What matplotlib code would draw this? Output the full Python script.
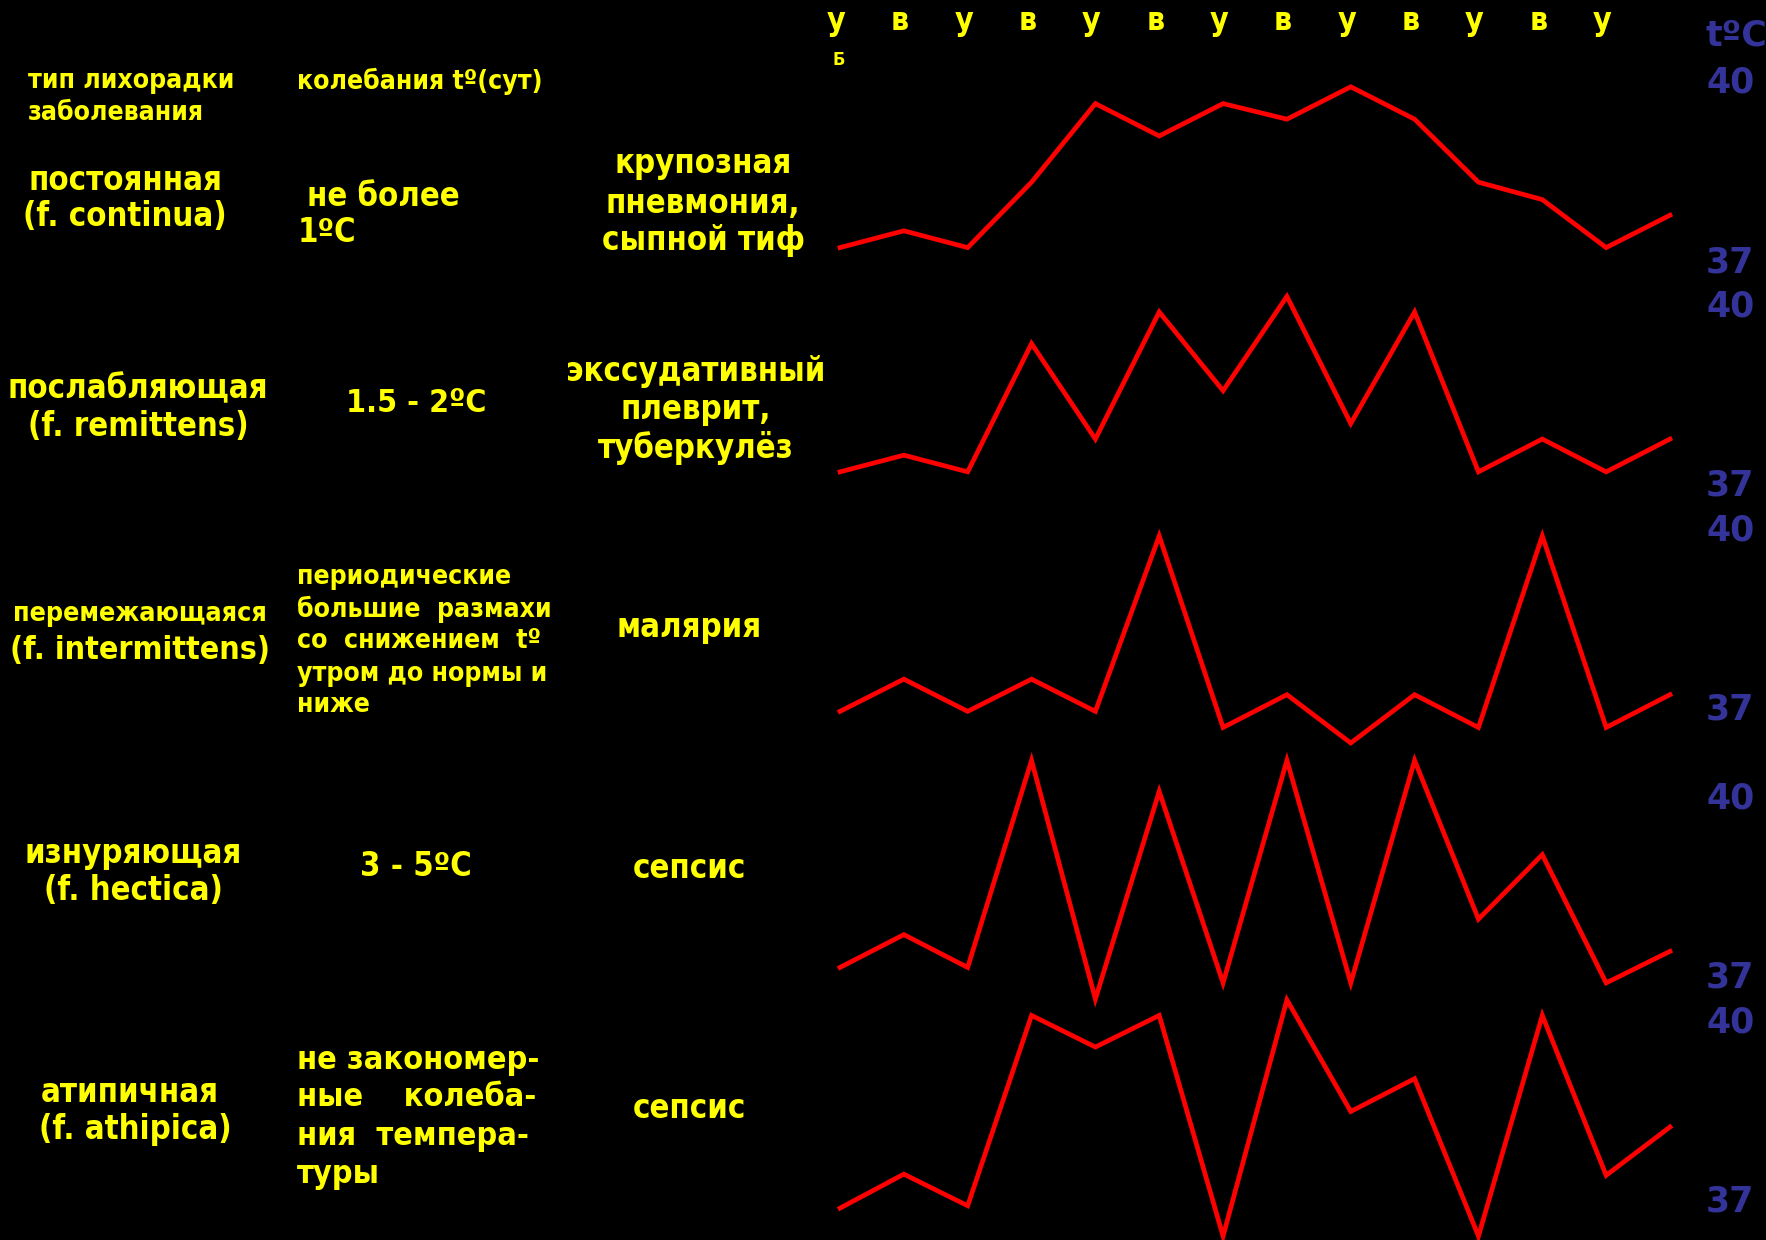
import matplotlib.pyplot as plt
import matplotlib.transforms as mtransforms

W, H = 1766, 1240
YELLOW = '#FFFF00'
BLUE = '#333399'
FONT = 'DejaVu Sans'

# time of measurement: у = утро, в = вечер
day_labels = ['у', 'в', 'у', 'в', 'у', 'в', 'у', 'в', 'у', 'в', 'у', 'в', 'у']

# temperature curves, one per fever type (°C)
t_continua = [37.19, 37.47, 37.19, 38.28, 39.59, 39.05, 39.59, 39.33, 39.87, 39.33, 38.28, 37.99, 37.19, 37.73]
t_remittens = [37.17, 37.45, 37.17, 39.32, 37.72, 39.85, 38.53, 40.11, 37.98, 39.85, 37.17, 37.72, 37.17, 37.72]
t_intermittens = [36.91, 37.45, 36.91, 37.45, 36.91, 39.85, 36.64, 37.19, 36.38, 37.19, 36.64, 39.85, 36.64, 37.19]
t_hectica = [37.11, 37.66, 37.11, 40.58, 36.58, 40.06, 36.85, 40.58, 36.85, 40.58, 37.92, 39.00, 36.85, 37.38]
t_athipica = [36.83, 37.40, 36.87, 40.06, 39.53, 40.06, 36.36, 40.32, 38.45, 39.00, 36.36, 40.06, 37.38, 38.19]

curves = [t_continua, t_remittens, t_intermittens, t_hectica, t_athipica]
y_ticks = [37, 40]

# pixel rows of the 40 / 37 marks for each panel
panel_rows = [(79, 259), (303, 482), (527, 706), (795, 974), (1019, 1198)]
x_left, x_right = 840, 1670

fig = plt.figure(figsize=(W / 100, H / 100), dpi=100, facecolor='black')


def put(x, y, s, size, ha='left', color=YELLOW, stretch='condensed'):
    fig.text(x / W, 1 - y / H, s, ha=ha, va='center', fontsize=size,
             fontweight='bold', fontstretch=stretch, color=color, family=FONT)


for i, (temps, (y40, y37)) in enumerate(zip(curves, panel_rows)):
    ax = fig.add_axes([x_left / W, 1 - y37 / H, (x_right - x_left) / W, (y37 - y40) / H])
    ax.set_facecolor('none')
    ax.plot(range(len(temps)), temps, color='#FF0000', lw=3.4, clip_on=False,
            solid_joinstyle='miter')
    ax.set_xlim(0, len(temps) - 1)
    ax.set_ylim(37, 40)
    for sp in ax.spines.values():
        sp.set_visible(False)
    ax.yaxis.tick_right()
    ax.set_yticks(y_ticks)
    ax.set_yticklabels([str(v) for v in y_ticks], color=BLUE, fontsize=25,
                       fontweight='bold', family=FONT)
    ax.tick_params(axis='y', length=0, pad=26)
    if i == 0:
        ax.xaxis.tick_top()
        ax.set_xticks(range(len(day_labels)))
        ax.set_xticklabels(day_labels, color=YELLOW, fontsize=23,
                           fontweight='bold', fontstretch='condensed', family=FONT)
        ax.tick_params(axis='x', length=0, pad=30)
        shift = mtransforms.ScaledTranslation(-4 / 100, 0, fig.dpi_scale_trans)
        for lbl in ax.get_xticklabels():
            lbl.set_transform(lbl.get_transform() + shift)
    else:
        ax.set_xticks([])

put(1706, 36, 'tºC', 25, color=BLUE, stretch='normal')
put(832, 60, 'Б', 13)

# header
put(28, 81, 'тип лихорадки', 19.1)
put(28, 113, 'заболевания', 19.1)
put(297, 81, 'колебания tº(сут)', 19.1)

# row 1
put(125, 180, 'постоянная', 23.6, ha='center')
put(125, 217, '(f. continua)', 23.6, ha='center')
put(307, 196, 'не более', 23.6)
put(298, 233, '1ºC', 23.6)
put(703, 164, 'крупозная', 23.6, ha='center')
put(703, 203, 'пневмония,', 23.6, ha='center')
put(703, 240, 'сыпной тиф', 23.6, ha='center')

# row 2
put(138, 389, 'послабляющая', 23.6, ha='center')
put(138, 426, '(f. remittens)', 23.6, ha='center')
put(416, 403, '1.5 - 2ºC', 23, ha='center')
put(696, 372, 'экссудативный', 23.6, ha='center')
put(696, 410, 'плеврит,', 23.6, ha='center')
put(696, 448, 'туберкулёз', 23.6, ha='center')

# row 3
put(140, 614, 'перемежающаяся', 19.3, ha='center')
put(140, 650, '(f. intermittens)', 23, ha='center')
for y, s in zip([577, 609, 641, 674, 705],
                ['периодические', 'большие  размахи', 'со  снижением  tº',
                 'утром до нормы и', 'ниже']):
    put(297, y, s, 19.1)
put(689, 628, 'малярия', 23.6, ha='center')

# row 4
put(133, 853, 'изнуряющая', 23.6, ha='center')
put(133, 890, '(f. hectica)', 23.6, ha='center')
put(416, 867, '3 - 5ºC', 23.6, ha='center')
put(689, 868, 'сепсис', 23.6, ha='center')

# row 5
put(130, 1093, 'атипичная', 23.6, ha='center')
put(135, 1130, '(f. athipica)', 23.6, ha='center')
for y, s in zip([1060, 1098, 1136, 1175],
                ['не закономер-', 'ные    колеба-', 'ния  темпера-', 'туры']):
    put(297, y, s, 23.2)
put(689, 1108, 'сепсис', 23.6, ha='center')

fig.savefig('out.png', dpi=100, facecolor='black')
